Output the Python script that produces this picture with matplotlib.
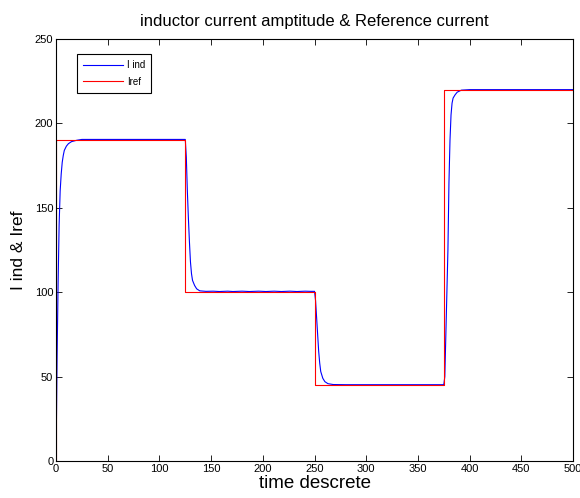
import numpy as np
import matplotlib
matplotlib.use("Agg")
import matplotlib.pyplot as plt

plt.rcParams['font.family'] = ['Liberation Sans', 'DejaVu Sans']

# referencia (escalones)
t_ref = [0, 0, 125, 125, 250, 250, 375, 375, 500]
i_ref = [0, 190, 190, 100, 100, 45, 45, 220, 220]

# corriente del inductor
t_ind = [0, 1, 2, 3, 4, 5, 6, 7, 8, 10, 12, 15, 20, 25,
         125, 126, 127, 128, 129, 130, 131, 132, 134, 136, 139, 145,
         152, 158, 166, 171, 180, 187, 196, 203, 211, 218, 226, 233, 241, 246,
         250, 251, 252, 253, 254, 255, 256, 258, 260, 263, 268, 280,
         375, 376, 377, 378, 379, 380, 381, 382, 383, 384, 386, 388, 392, 400, 500]
i_ind = [0, 60, 105, 140, 160, 170, 177, 181, 184, 186.5, 188, 189.2, 190, 190.5,
         190.5, 180, 160, 144, 130, 118, 111, 107, 104, 102, 100.8, 100.5,
         100.6, 100.4, 100.6, 100.4, 100.6, 100.4, 100.6, 100.4, 100.6, 100.4, 100.6, 100.4, 100.6, 100.5,
         100.5, 95, 85, 75, 65, 58, 53, 49, 47, 45.8, 45.3, 45.2,
         45.2, 50, 75, 100, 125, 165, 190, 205, 212, 215, 217, 218.5, 219.7, 220, 220]

fig = plt.figure(figsize=(5.8, 4.98), dpi=100)
ax = fig.add_axes([0.0966, 0.0743, 0.8914, 0.8474])

ax.plot(t_ind, i_ind, color="blue", linewidth=0.8, label="I ind")
ax.plot(t_ref, i_ref, color="red", linewidth=0.8, label="Iref")

ax.set_xlim(0, 500)
ax.set_ylim(0, 250)
ax.set_xticks(np.arange(0, 501, 50))
ax.set_yticks(np.arange(0, 251, 50))
ax.tick_params(direction="in", top=True, right=True, length=4, width=0.6,
               labelsize=8, pad=2)
for s in ax.spines.values():
    s.set_linewidth(0.8)

ax.set_title("inductor current amptitude & Reference current", fontsize=12, pad=9)
ax.set_xlabel("time descrete", fontsize=13.5, labelpad=1)
ax.set_ylabel("I ind & Iref", fontsize=12.5, labelpad=6)

leg = ax.legend(loc="upper left", bbox_to_anchor=(0.04, 0.964), fontsize=7,
                fancybox=False, edgecolor="black", framealpha=1, borderaxespad=0,
                handlelength=4.2, borderpad=0.6, labelspacing=0.7, handletextpad=0.4)
leg.get_frame().set_linewidth(0.8)

plt.savefig("out.png", dpi=100)
